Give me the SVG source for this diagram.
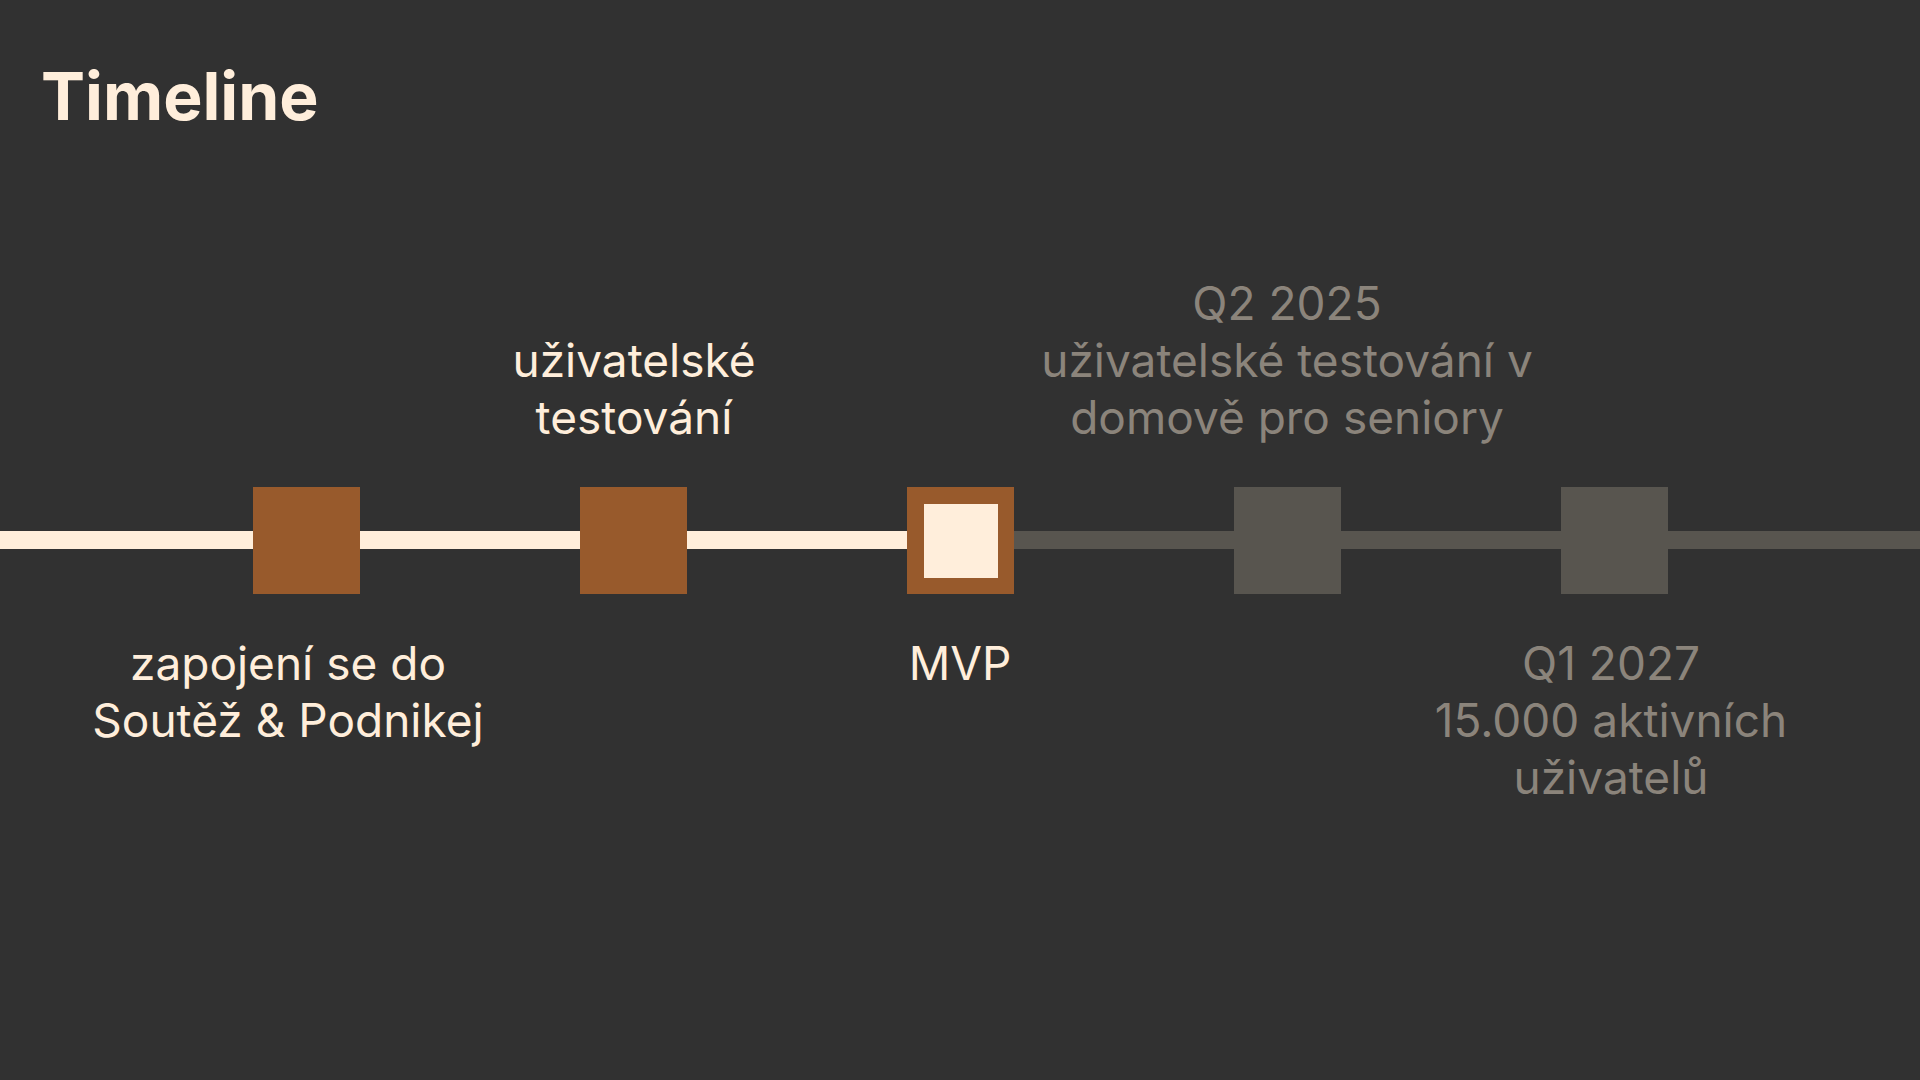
<svg xmlns="http://www.w3.org/2000/svg" width="1920" height="1080" viewBox="0 0 1920 1080">
<style>
.t{font-family:Inter,"Noto Sans","Liberation Sans",sans-serif;font-size:46px;text-anchor:middle}
.done{fill:#FFEEDB}
.todo{fill:#8B847B}
.title{font-family:Inter,"Noto Sans","Liberation Sans",sans-serif;font-size:66px;font-weight:700;fill:#FFEEDB}
.brown{fill:#985A2C}
.gray{fill:#58554F}
</style>
<rect width="1920" height="1080" fill="#313131"/>
<text class="title" x="41" y="120">Timeline</text>
<g id="connectors">
<rect x="0" y="531" width="930" height="18" fill="#FFEEDB"/>
<rect x="1010" y="531" width="910" height="18" fill="#58554F"/>
</g>
<g id="node1">
<rect class="brown" x="253" y="487" width="107" height="107"/>
<text class="t done" x="288"><tspan x="288" y="680">zapojení se do</tspan><tspan x="288" y="737">Soutěž &amp; Podnikej</tspan></text>
</g>
<g id="node2">
<rect class="brown" x="580" y="487" width="107" height="107"/>
<text class="t done" x="634"><tspan x="634" y="377">uživatelské</tspan><tspan x="634" y="434">testování</tspan></text>
</g>
<g id="node3">
<rect class="brown" x="907" y="487" width="107" height="107"/>
<rect x="924" y="504" width="74" height="74" fill="#FFEEDB"/>
<text class="t done" x="960" y="680">MVP</text>
</g>
<g id="node4">
<rect class="gray" x="1234" y="487" width="107" height="107"/>
<text class="t todo" x="1287"><tspan x="1287" y="320">Q2 2025</tspan><tspan x="1287" y="377">uživatelské testování v</tspan><tspan x="1287" y="434">domově pro seniory</tspan></text>
</g>
<g id="node5">
<rect class="gray" x="1561" y="487" width="107" height="107"/>
<text class="t todo" x="1611"><tspan x="1611" y="680">Q1 2027</tspan><tspan x="1611" y="737">15.000 aktivních</tspan><tspan x="1611" y="794">uživatelů</tspan></text>
</g>
</svg>
